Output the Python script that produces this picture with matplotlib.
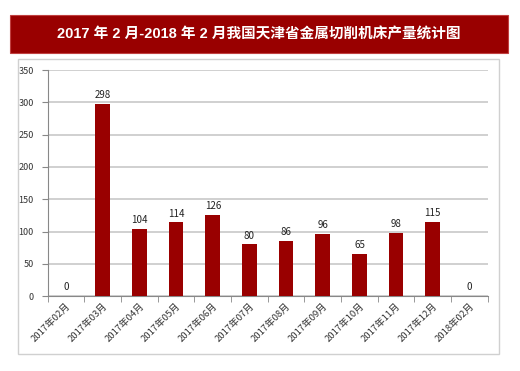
import numpy as np
import matplotlib.pyplot as plt
from matplotlib.patches import Rectangle

plt.rcParams['font.family'] = ['Noto Sans CJK SC', 'DejaVu Sans']

months = ['2017年02月', '2017年03月', '2017年04月', '2017年05月', '2017年06月', '2017年07月',
          '2017年08月', '2017年09月', '2017年10月', '2017年11月', '2017年12月', '2018年02月']
values = [0, 298, 104, 114, 126, 80, 86, 96, 65, 98, 115, 0]
yticks = [0, 50, 100, 150, 200, 250, 300, 350]

title = '2017 年 2 月-2018 年 2 月我国天津省金属切削机床产量统计图'

fig = plt.figure(figsize=(5.2, 3.71), dpi=100)

# banner + frame
fig.patches.append(Rectangle((0.019, 0.857), 0.958, 0.102, transform=fig.transFigure,
                             facecolor='#990000', edgecolor='#c04040', lw=0.8))
fig.text(0.498, 0.908, title, color='white', fontsize=10.5, fontweight='bold',
         ha='center', va='center', family=['Liberation Sans', 'Noto Sans CJK SC'])
fig.patches.append(Rectangle((0.0346, 0.046), 0.925, 0.795, transform=fig.transFigure,
                             facecolor='none', edgecolor='#d0d0d0', lw=1.0))

ax = fig.add_axes([0.092, 0.202, 0.846, 0.609])
x = np.arange(len(values))
ax.bar(x, values, width=0.4, color='#990000', zorder=3)
for xi, v in zip(x, values):
    ax.text(xi, v + 6, str(v), ha='center', va='bottom', fontsize=7, color='#222222')

ax.set_xlim(-0.5, len(values) - 0.5)
ax.set_ylim(0, 350)
ax.set_yticks(yticks)
ax.set_yticklabels([str(t) for t in yticks], fontsize=6.5, color='#333333')
ax.yaxis.grid(True, color='#c8c8c8', lw=1.2, zorder=0)
ax.set_xticks(x)
ax.set_xticklabels(months, rotation=45, ha='right', rotation_mode='anchor', fontsize=6.8, color='#333333')
ax.tick_params(axis='x', length=0, pad=4)
ax.set_xticks(np.arange(-0.5, len(values)), minor=True)
ax.tick_params(axis='x', which='minor', length=4, color='#888888', direction='out')
ax.tick_params(axis='y', length=4, color='#888888', pad=6)
for s in ['top', 'right']:
    ax.spines[s].set_visible(False)
ax.spines['left'].set_color('#888888')
ax.spines['bottom'].set_color('#888888')

fig.savefig('out.png', dpi=100)
